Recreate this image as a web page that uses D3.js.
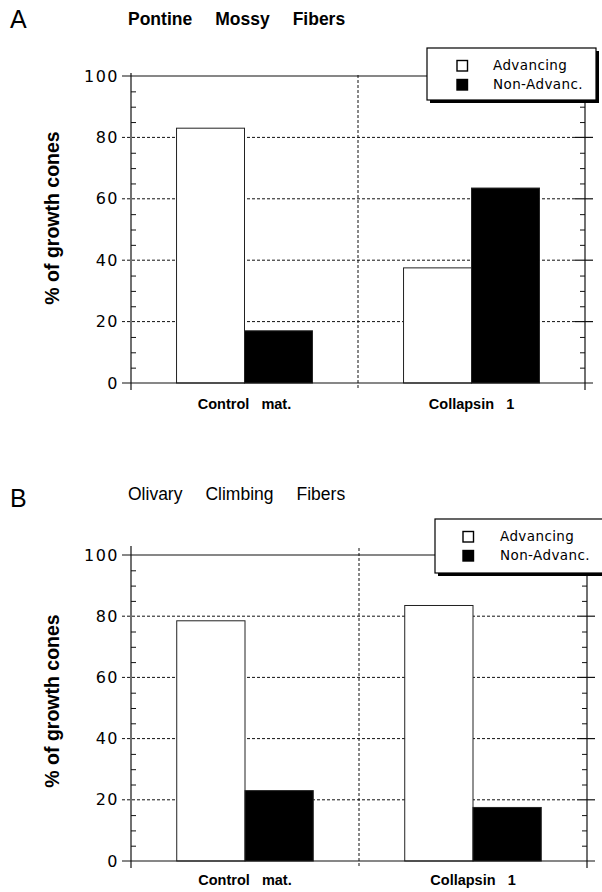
<!DOCTYPE html>
<html><head><meta charset="utf-8">
<script src="https://cdn.jsdelivr.net/npm/d3@7"></script>
<style>body{margin:0;background:#fff}svg{display:block}</style>
</head><body>
<script>
// ---- data ----
const categories = ["Control   mat.", "Collapsin   1"];
const series = ["Advancing", "Non-Advanc."];
const advancingA = [83, 37.5];
const nonAdvancingA = [17, 63.5];
const advancingB = [78.5, 83.5];
const nonAdvancingB = [23, 17.5];
const yTicks = [0, 20, 40, 60, 80, 100];
const yMinorTicks = [5, 10, 15, 25, 30, 35, 45, 50, 55, 65, 70, 75, 85, 90, 95];
const titleA = ["Pontine", "Mossy", "Fibers"];
const titleB = ["Olivary", "Climbing", "Fibers"];
const yLabel = "% of growth cones";

// ---- layout ----
const W = 602, H = 892;
const svg = d3.select("body").append("svg").attr("width", W).attr("height", H);
svg.append("rect").attr("width", W).attr("height", H).attr("fill", "#fff");

const SANS = "'Liberation Sans', Arial, sans-serif";
const WIDE = "'DejaVu Sans', Verdana, sans-serif";

function drawPanel(p) {
  const g = svg.append("g");
  const [x0, x1] = p.xRange;
  const x = d3.scaleBand().domain(categories).range(p.xRange);
  const y = d3.scaleLinear().domain([0, 100]).range(p.yRange);
  const xs = d3.scaleBand().domain(series).range([0, x.bandwidth()]).paddingOuter(0.67);
  const color = d3.scaleOrdinal().domain(series).range(["#fff", "#000"]);
  const leftExt = x0 - 9, rightExt = x1 + 8;
  const ink = "#111";

  // dashed grid
  g.selectAll(".grid").data(yTicks.filter(d => d > 0 && d < 100)).join("line")
    .attr("x1", leftExt).attr("x2", x1 - 10)
    .attr("y1", d => y(d)).attr("y2", d => y(d))
    .attr("stroke", ink).attr("stroke-width", 1).attr("stroke-dasharray", "3,2");

  // middle dashed vertical divider
  const xm = x(categories[1]);
  g.append("line").attr("x1", xm).attr("x2", xm)
    .attr("y1", p.axisTop + 2).attr("y2", p.axisBottom)
    .attr("stroke", ink).attr("stroke-dasharray", "3,2");

  // bars
  const rows = categories.map((c, i) => ({ cat: c, vals: [p.adv[i], p.non[i]] }));
  g.selectAll(".grp").data(rows).join("g")
    .attr("transform", d => `translate(${x(d.cat)},0)`)
    .selectAll("rect").data(d => series.map((s, j) => ({ s, v: d.vals[j] }))).join("rect")
    .attr("x", d => xs(d.s)).attr("width", xs.bandwidth())
    .attr("y", d => y(d.v)).attr("height", d => y(0) - y(d.v))
    .attr("fill", d => color(d.s)).attr("stroke", "#222").attr("stroke-width", 1);

  // solid lines at 0 and 100
  g.selectAll(".solid").data([0, 100]).join("line")
    .attr("x1", leftExt).attr("x2", rightExt)
    .attr("y1", d => y(d)).attr("y2", d => y(d))
    .attr("stroke", ink).attr("stroke-width", 1.2);

  // right major ticks (crossing)
  g.selectAll(".rmaj").data(yTicks.filter(d => d > 0 && d < 100)).join("line")
    .attr("x1", x1 - 10).attr("x2", rightExt)
    .attr("y1", d => y(d)).attr("y2", d => y(d))
    .attr("stroke", ink).attr("stroke-width", 1.2);

  // axis lines
  [x0, x1].forEach(xx => {
    g.append("line").attr("x1", xx).attr("x2", xx)
      .attr("y1", p.axisTop).attr("y2", p.axisBottom)
      .attr("stroke", ink).attr("stroke-width", 1.2);
  });

  // minor ticks (inward)
  g.append("g").attr("transform", `translate(${x0},0)`)
    .call(d3.axisRight(y).tickValues(yMinorTicks).tickSize(5).tickFormat(""))
    .call(a => a.select(".domain").remove())
    .selectAll("line").attr("stroke", ink);
  g.append("g").attr("transform", `translate(${x1},0)`)
    .call(d3.axisLeft(y).tickValues(yMinorTicks).tickSize(5).tickFormat(""))
    .call(a => a.select(".domain").remove())
    .selectAll("line").attr("stroke", ink);

  // y tick labels
  const ya = g.append("g").attr("transform", `translate(${x0},0)`)
    .call(d3.axisLeft(y).tickValues(yTicks).tickSize(0).tickPadding(12))
    .call(a => a.select(".domain").remove());
  ya.selectAll("text").attr("font-family", WIDE).attr("font-size", 16)
    .attr("letter-spacing", "1.5px").attr("fill", "#000");

  // x category labels
  const xa = g.append("g").attr("transform", `translate(0,${y(0)})`)
    .call(d3.axisBottom(x).tickSize(0))
    .call(a => a.select(".domain").remove());
  xa.selectAll("text").attr("y", p.labelDy).attr("dy", null)
    .attr("xml:space", "preserve").style("white-space", "pre")
    .attr("font-family", SANS).attr("font-weight", "bold").attr("font-size", 14.5).attr("fill", "#000");

  // y axis title
  g.append("text")
    .attr("transform", `translate(59,${p.yLabelCenter}) rotate(-90)`)
    .attr("text-anchor", "middle")
    .attr("font-family", SANS).attr("font-weight", "bold").attr("font-size", 19.5)
    .text(yLabel);

  // panel letter
  g.append("text").attr("x", 10).attr("y", p.letterY)
    .attr("font-family", SANS).attr("font-size", 25).text(p.letter);

  // title words
  let tx = 128;
  p.title.forEach(w => {
    const t = g.append("text").attr("x", tx).attr("y", p.titleY)
      .attr("font-family", SANS).attr("font-weight", p.titleWeight).attr("font-size", 17.5).text(w);
    tx += t.node().getComputedTextLength() + 23;
  });

  // legend
  const L = p.legend;
  const lg = g.append("g").attr("transform", `translate(${L.x},${L.y})`);
  lg.append("rect").attr("x", 3).attr("y", 3).attr("width", L.w).attr("height", L.h).attr("fill", "#000");
  lg.append("rect").attr("width", L.w).attr("height", L.h).attr("fill", "#fff")
    .attr("stroke", "#000").attr("stroke-width", 1.2);
  const items = lg.selectAll(".li").data(series).join("g")
    .attr("transform", (d, i) => `translate(0,${i === 0 ? 0 : 19})`);
  items.append("rect").attr("x", L.sq).attr("y", 12.5).attr("width", 10.5).attr("height", 10.5)
    .attr("fill", d => color(d)).attr("stroke", "#000").attr("stroke-width", 1.4);
  items.append("text").attr("x", L.tx).attr("y", 22)
    .attr("font-family", WIDE).attr("font-size", 13.5).attr("letter-spacing", "0.4px")
    .text(d => d);
}

drawPanel({
  letter: "A", letterY: 28, title: titleA, titleY: 25, titleWeight: "bold",
  xRange: [131, 585], yRange: [383, 76], axisTop: 73, axisBottom: 390,
  adv: advancingA, non: nonAdvancingA, labelDy: 26, yLabelCenter: 218,
  legend: { x: 427, y: 48, w: 169, h: 52, sq: 30, tx: 66 }
});
drawPanel({
  letter: "B", letterY: 507, title: titleB, titleY: 500, titleWeight: "normal",
  xRange: [131, 587], yRange: [861, 555], axisTop: 546, axisBottom: 868,
  adv: advancingB, non: nonAdvancingB, labelDy: 24, yLabelCenter: 701,
  legend: { x: 435, y: 519, w: 172, h: 54, sq: 28, tx: 65 }
});
</script>
</body></html>
